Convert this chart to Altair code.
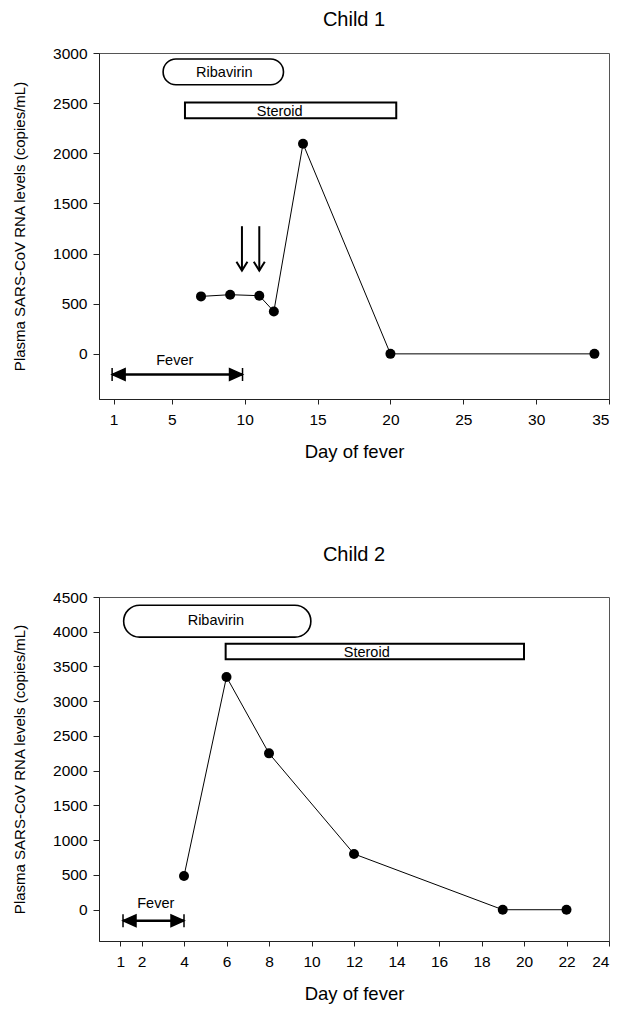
import altair as alt
import pandas as pd

FONT = "Liberation Sans"

# ---------------- data ----------------
# Child 1
c1_day = [7, 9, 11, 12, 14, 20, 34]
c1_rna = [573, 590, 580, 423, 2095, 0, 0]
c1_x_ticks = [1, 5, 10, 15, 20, 25, 30, 35]
c1_y_ticks = [0, 500, 1000, 1500, 2000, 2500, 3000]
c1_x_domain = [0, 35]
c1_y_domain = [-450, 3000]
c1_rib_x = [4.4, 12.66]
c1_rib_y = [2683, 2940]
c1_rib_text = [8.6, 2800]
c1_ster_x = [5.9, 20.4]
c1_ster_y = [2350, 2506]
c1_ster_text = [12.4, 2416]
c1_fever_x = [0.9, 9.85]
c1_fever_y = -205
c1_fever_text = [5.2, -73]
c1_arrow_x = [9.81, 11.0]
c1_arrow_top = 1273
c1_arrow_tip = 830

# Child 2
c2_day = [4, 6, 8, 12, 19, 22]
c2_rna = [485, 3350, 2250, 803, 0, 0]
c2_x_ticks = [1, 2, 4, 6, 8, 10, 12, 14, 16, 18, 20, 22, 24]
c2_y_ticks = [0, 500, 1000, 1500, 2000, 2500, 3000, 3500, 4000, 4500]
c2_x_domain = [0, 24]
c2_y_domain = [-450, 4500]
c2_rib_x = [1.16, 9.97]
c2_rib_y = [3922, 4382]
c2_rib_text = [5.5, 4152]
c2_ster_x = [5.96, 20.0]
c2_ster_y = [3606, 3827]
c2_ster_text = [12.6, 3698]
c2_fever_x = [1.13, 4.0]
c2_fever_y = -158
c2_fever_text = [2.67, 86]

HEAD_L = "M0,0L2,-0.9L2,0.9Z M0,-1L0,1"
HEAD_R = "M0,0L-2,-0.9L-2,0.9Z M0,-1L0,1"
HEAD_D = "M-1,-1.6L0,0L1,-1.6"


def panel(title, title_offset, days, rna, xdom, xticks, ydom, yticks,
          rib_x, rib_y, rib_text, ster_x, ster_y, ster_text,
          fever_x, fever_y, fever_text, pill_radius, height,
          arrow_x=None, arrow_top=None, arrow_tip=None):
    xs = alt.Scale(domain=xdom, nice=False, zero=False)
    ys = alt.Scale(domain=ydom, nice=False, zero=False)
    x_axis = alt.Axis(values=xticks, title="Day of fever", grid=False,
                      format="d",
                      tickSize=5, labelPadding=8, labelFontSize=15.5,
                      titleFontSize=18.5, titleFontWeight="normal",
                      titlePadding=15, labelColor="black", titleColor="black",
                      domainColor="#222", tickColor="#222", labelFont=FONT,
                      titleFont=FONT)
    y_axis = alt.Axis(values=yticks, format="d",
                      title="Plasma SARS-CoV RNA levels (copies/mL)",
                      grid=False, tickSize=6, labelPadding=6,
                      labelFontSize=15.5, titleFontSize=15,
                      titleFontWeight="normal", titlePadding=25,
                      labelColor="black", titleColor="black",
                      domainColor="#222", tickColor="#222", labelFont=FONT,
                      titleFont=FONT)
    X = lambda f: alt.X(f"{f}:Q", scale=xs, axis=x_axis)
    Y = lambda f: alt.Y(f"{f}:Q", scale=ys, axis=y_axis)

    series = pd.DataFrame({"day": days, "rna": rna})
    rib = pd.DataFrame({"day": [rib_x[0]], "day2": [rib_x[1]],
                        "rna": [rib_y[0]], "rna2": [rib_y[1]]})
    ster = pd.DataFrame({"day": [ster_x[0]], "day2": [ster_x[1]],
                         "rna": [ster_y[0]], "rna2": [ster_y[1]]})
    labels = pd.DataFrame({
        "day": [rib_text[0], ster_text[0], fever_text[0]],
        "rna": [rib_text[1], ster_text[1], fever_text[1]],
        "label": ["Ribavirin", "Steroid", "Fever"]})
    fever = pd.DataFrame({"day": [fever_x[0]], "day2": [fever_x[1]],
                          "rna": [fever_y]})
    fever_l = pd.DataFrame({"day": [fever_x[0]], "rna": [fever_y]})
    fever_r = pd.DataFrame({"day": [fever_x[1]], "rna": [fever_y]})

    layers = [
        alt.Chart(series).mark_line(color="black", strokeWidth=1).encode(
            x=X("day"), y=Y("rna")),
        alt.Chart(rib).mark_rect(fill="white", stroke="black",
                                 strokeWidth=1.6, cornerRadius=pill_radius)
        .encode(x=X("day"), x2="day2", y=Y("rna"), y2="rna2"),
        alt.Chart(ster).mark_rect(fill="white", stroke="black",
                                  strokeWidth=2).encode(
            x=X("day"), x2="day2", y=Y("rna"), y2="rna2"),
        alt.Chart(labels).mark_text(font=FONT, fontSize=14.5, color="black",
                                    baseline="middle", align="center")
        .encode(x=X("day"), y=Y("rna"), text="label:N"),
        alt.Chart(series).mark_circle(size=100, color="black", opacity=1)
        .encode(x=X("day"), y=Y("rna")),
        alt.Chart(fever).mark_rule(color="black", strokeWidth=2.5).encode(
            x=X("day"), x2="day2", y=Y("rna")),
        alt.Chart(fever_l).mark_point(shape=HEAD_L, size=169, filled=True,
                                      fill="black", stroke="black",
                                      strokeWidth=1.5, opacity=1)
        .encode(x=X("day"), y=Y("rna")),
        alt.Chart(fever_r).mark_point(shape=HEAD_R, size=169, filled=True,
                                      fill="black", stroke="black",
                                      strokeWidth=1.5, opacity=1)
        .encode(x=X("day"), y=Y("rna")),
    ]
    if arrow_x is not None:
        arr = pd.DataFrame({"day": arrow_x,
                            "rna": [arrow_top] * len(arrow_x),
                            "rna2": [arrow_tip] * len(arrow_x)})
        tips = pd.DataFrame({"day": arrow_x,
                             "rna": [arrow_tip] * len(arrow_x)})
        layers.append(alt.Chart(arr).mark_rule(color="black", strokeWidth=2)
                      .encode(x=X("day"), y=Y("rna"), y2="rna2"))
        layers.append(alt.Chart(tips).mark_point(shape=HEAD_D, size=121,
                                                 filled=False, color="black",
                                                 strokeWidth=2, opacity=1)
                      .encode(x=X("day"), y=Y("rna")))

    return alt.layer(*layers).properties(
        width=510, height=height,
        title=alt.TitleParams(title, fontSize=20, font=FONT,
                              fontWeight="normal", color="black",
                              anchor="middle", baseline="alphabetic",
                              offset=title_offset))


child1 = panel("Child 1", 0, c1_day, c1_rna, c1_x_domain, c1_x_ticks,
               c1_y_domain, c1_y_ticks, c1_rib_x, c1_rib_y, c1_rib_text,
               c1_ster_x, c1_ster_y, c1_ster_text, c1_fever_x, c1_fever_y,
               c1_fever_text, 12.8, 346,
               arrow_x=c1_arrow_x, arrow_top=c1_arrow_top,
               arrow_tip=c1_arrow_tip)
child2 = panel("Child 2", 9.5, c2_day, c2_rna, c2_x_domain, c2_x_ticks,
               c2_y_domain, c2_y_ticks, c2_rib_x, c2_rib_y, c2_rib_text,
               c2_ster_x, c2_ster_y, c2_ster_text, c2_fever_x, c2_fever_y,
               c2_fever_text, 16, 344)

chart = alt.vconcat(child1, child2, spacing=82).properties(
    padding={"left": 12, "top": 9, "right": 5, "bottom": 5}
).configure(font=FONT).configure_view(stroke="#555", strokeWidth=1)

chart.save("out.html", embed_options={"renderer": "svg", "actions": False})
